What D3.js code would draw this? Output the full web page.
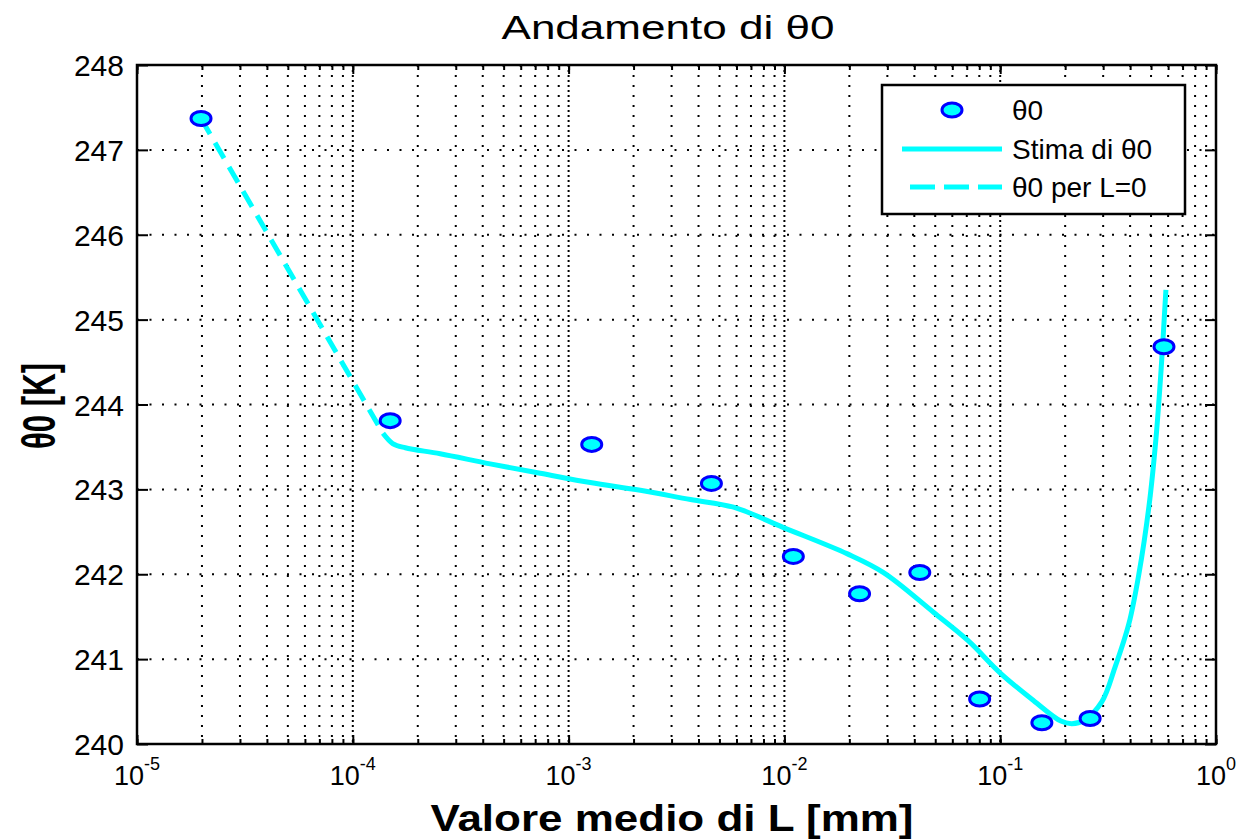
<!DOCTYPE html>
<html lang="it">
  <head>
    <meta charset="UTF-8" />
    <title>Andamento di θ0</title>
    <style>
      body { margin: 0; background: #fff; }
      text { font-family: "Liberation Sans", Arial, sans-serif; fill: #000; }
    </style>
  </head>
  <body>
    <div class="chart"></div>
    <script src="https://d3js.org/d3.v7.min.js"></script>
    <script>
      // punti misurati (L in mm, theta0 in K)
      const pointL = [1.98e-5, 1.49e-4, 1.28e-3, 4.59e-3, 0.011, 0.0223, 0.0424, 0.0803, 0.156, 0.261, 0.574];
      const pointTheta = [247.37, 243.81, 243.53, 243.07, 242.21, 241.77, 242.02, 240.53, 240.25, 240.3, 244.68];

      // curva di stima
      const fitL = [1.38e-4, 1.53e-4, 1.75e-4, 2.54e-4, 4.33e-4, 7.39e-4, 1.26e-3, 2.15e-3, 3.67e-3,
        5.81e-3, 9.91e-3, 1.96e-2, 2.88e-2, 4.92e-2, 7.08e-2, 0.1007, 0.143, 0.191, 0.215, 0.245,
        0.296, 0.34, 0.395, 0.439, 0.489, 0.527, 0.556, 0.586];
      const fitTheta = [243.66, 243.54, 243.49, 243.42, 243.3, 243.19, 243.08, 242.99, 242.88,
        242.79, 242.55, 242.24, 242.02, 241.55, 241.22, 240.83, 240.51, 240.27, 240.24, 240.28,
        240.5, 240.9, 241.42, 242.0, 242.8, 243.6, 244.39, 245.35];

      // retta per L=0
      const zeroL = [1.98e-5, 1.38e-4];
      const zeroTheta = [247.37, 243.66];

      const xTicks = [1e-5, 1e-4, 1e-3, 1e-2, 1e-1, 1];
      const xTickExp = ["-5", "-4", "-3", "-2", "-1", "0"];
      const yTicks = [240, 241, 242, 243, 244, 245, 246, 247, 248];

      const svgWidth = 1245,
        svgHeight = 839;
      const margin = { top: 65, right: 29, bottom: 95, left: 137 },
        width = svgWidth - margin.left - margin.right,
        height = svgHeight - margin.top - margin.bottom;

      const svg = d3
        .select(".chart")
        .append("svg")
        .attr("width", svgWidth)
        .attr("height", svgHeight);

      const xScale = d3
        .scaleLog()
        .domain([1e-5, 1])
        .range([margin.left, margin.left + width]);
      const yScale = d3
        .scaleLinear()
        .domain([240, 248])
        .range([margin.top + height, margin.top]);

      // posizioni minori (griglia logaritmica)
      const minorTicks = [];
      for (let e = -5; e < 0; e++) {
        for (let k = 1; k <= 9; k++) minorTicks.push(k * Math.pow(10, e));
      }

      // griglia tratteggiata
      const grid = svg.append("g").attr("stroke", "#000").attr("stroke-width", 2);
      grid
        .selectAll(".vgrid")
        .data(minorTicks.filter((d) => d > 1e-5))
        .join("line")
        .attr("x1", (d) => xScale(d))
        .attr("x2", (d) => xScale(d))
        .attr("y1", yScale(248))
        .attr("y2", yScale(240))
        .attr("stroke-dasharray", "2,8");
      grid
        .selectAll(".vmajor")
        .data(xTicks.slice(1, -1))
        .join("line")
        .attr("x1", (d) => xScale(d))
        .attr("x2", (d) => xScale(d))
        .attr("y1", yScale(248) + 5)
        .attr("y2", yScale(240))
        .attr("stroke-dasharray", "2,8");
      grid
        .selectAll(".hgrid")
        .data(yTicks.slice(1, -1))
        .join("line")
        .attr("x1", xScale(1e-5))
        .attr("x2", xScale(1))
        .attr("y1", (d) => yScale(d))
        .attr("y2", (d) => yScale(d))
        .attr("stroke-dasharray", "2,10.5");

      // assi con tacche interne (sopra, sotto, sinistra, destra)
      const axisBottom = d3.axisBottom(xScale).tickValues(minorTicks.concat([1]))
        .tickSize(-5).tickFormat("");
      const axisTop = d3.axisTop(xScale).tickValues(minorTicks.concat([1]))
        .tickSize(-5).tickFormat("");
      svg.append("g").attr("transform", `translate(0, ${yScale(240)})`).call(axisBottom);
      svg.append("g").attr("transform", `translate(0, ${yScale(248)})`).call(axisTop);
      svg.append("g").attr("transform", `translate(0, ${yScale(240)})`)
        .call(d3.axisBottom(xScale).tickValues(xTicks).tickSize(-9).tickFormat(""));
      svg.append("g").attr("transform", `translate(0, ${yScale(248)})`)
        .call(d3.axisTop(xScale).tickValues(xTicks).tickSize(-9).tickFormat(""));
      svg.append("g").attr("transform", `translate(${xScale(1e-5)}, 0)`)
        .call(d3.axisLeft(yScale).tickValues(yTicks).tickSize(-11).tickFormat(""));
      svg.append("g").attr("transform", `translate(${xScale(1)}, 0)`)
        .call(d3.axisRight(yScale).tickValues(yTicks).tickSize(-11).tickFormat(""));
      svg.selectAll(".domain").remove();
      svg.selectAll(".tick line").attr("stroke", "#000").attr("stroke-width", 2);

      // cornice
      svg
        .append("rect")
        .attr("x", xScale(1e-5))
        .attr("y", yScale(248))
        .attr("width", xScale(1) - xScale(1e-5))
        .attr("height", yScale(240) - yScale(248))
        .attr("fill", "none")
        .attr("stroke", "#000")
        .attr("stroke-width", 2.5);

      // etichette asse y
      svg
        .append("g")
        .selectAll("text")
        .data(yTicks)
        .join("text")
        .attr("x", xScale(1e-5) - 13)
        .attr("y", (d) => yScale(d) + 11)
        .attr("text-anchor", "end")
        .attr("font-size", 30)
        .text((d) => d);

      // etichette asse x (10^n)
      const xLab = svg
        .append("g")
        .selectAll("text")
        .data(xTicks)
        .join("text")
        .attr("x", (d) => xScale(d))
        .attr("y", 785)
        .attr("text-anchor", "middle")
        .attr("font-size", 27);
      xLab.append("tspan").text("10");
      xLab
        .append("tspan")
        .attr("dy", -15)
        .attr("font-size", 18)
        .text((d, i) => xTickExp[i]);

      // linee
      const line = d3
        .line()
        .x((d) => xScale(d[0]))
        .y((d) => yScale(d[1]));

      svg
        .append("path")
        .datum(zeroL.map((d, i) => [d, zeroTheta[i]]))
        .attr("d", line)
        .attr("fill", "none")
        .attr("stroke", "#00ffff")
        .attr("stroke-width", 5)
        .attr("stroke-dasharray", "18,10");

      svg
        .append("path")
        .datum(fitL.map((d, i) => [d, fitTheta[i]]))
        .attr("d", line.curve(d3.curveCatmullRom.alpha(0.5)))
        .attr("fill", "none")
        .attr("stroke", "#00ffff")
        .attr("stroke-width", 5)
        .attr("stroke-linejoin", "round");

      // punti
      svg
        .append("g")
        .selectAll("ellipse")
        .data(pointL.map((d, i) => [d, pointTheta[i]]))
        .join("ellipse")
        .attr("cx", (d) => xScale(d[0]))
        .attr("cy", (d) => yScale(d[1]))
        .attr("rx", 10)
        .attr("ry", 7)
        .attr("fill", "#00ffff")
        .attr("stroke", "#0000ff")
        .attr("stroke-width", 3);

      // titolo e nomi assi
      svg
        .append("text")
        .attr("x", 668)
        .attr("y", 39)
        .attr("text-anchor", "middle")
        .attr("font-size", 33)
        .attr("textLength", 333)
        .attr("lengthAdjust", "spacingAndGlyphs")
        .text("Andamento di θ0");

      svg
        .append("text")
        .attr("x", 672)
        .attr("y", 831)
        .attr("text-anchor", "middle")
        .attr("font-size", 37)
        .attr("font-weight", "bold")
        .attr("textLength", 483)
        .attr("lengthAdjust", "spacingAndGlyphs")
        .text("Valore medio di L [mm]");

      svg
        .append("text")
        .attr("transform", "translate(55, 406) rotate(-90)")
        .attr("text-anchor", "middle")
        .attr("font-size", 46)
        .attr("font-weight", "bold")
        .attr("textLength", 86)
        .attr("lengthAdjust", "spacingAndGlyphs")
        .text("θ0 [K]");

      // legenda
      const legend = svg.append("g");
      legend
        .append("rect")
        .attr("x", 882)
        .attr("y", 85)
        .attr("width", 303)
        .attr("height", 129)
        .attr("fill", "#fff")
        .attr("stroke", "#000")
        .attr("stroke-width", 2.5);
      legend
        .append("ellipse")
        .attr("cx", 952)
        .attr("cy", 110)
        .attr("rx", 10)
        .attr("ry", 7)
        .attr("fill", "#00ffff")
        .attr("stroke", "#0000ff")
        .attr("stroke-width", 3);
      legend
        .append("line")
        .attr("x1", 902)
        .attr("x2", 1002)
        .attr("y1", 149)
        .attr("y2", 149)
        .attr("stroke", "#00ffff")
        .attr("stroke-width", 5);
      legend
        .append("line")
        .attr("x1", 910)
        .attr("x2", 1002)
        .attr("y1", 187)
        .attr("y2", 187)
        .attr("stroke", "#00ffff")
        .attr("stroke-width", 5)
        .attr("stroke-dasharray", "25,9");
      const legendNames = ["θ0", "Stima di θ0", "θ0 per L=0"];
      legend
        .selectAll("text")
        .data(legendNames)
        .join("text")
        .attr("x", 1012)
        .attr("y", (d, i) => [120, 159, 197][i])
        .attr("font-size", 28)
        .text((d) => d);
    </script>
  </body>
</html>
